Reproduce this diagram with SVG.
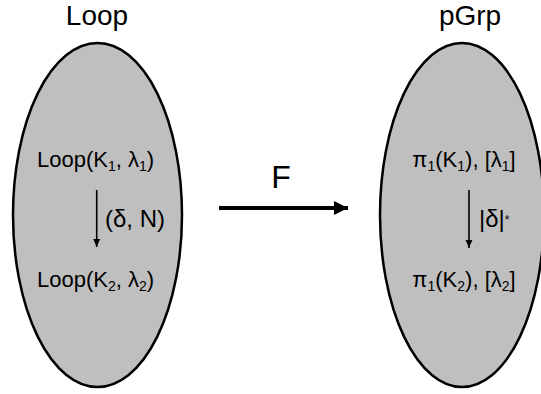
<svg xmlns="http://www.w3.org/2000/svg" width="541" height="394" viewBox="0 0 541 394">
<defs>
<style>
.set{fill:#bfbfbf;stroke:#000;stroke-width:2.5}
.title{font-family:"Liberation Sans",Arial,sans-serif;font-size:28px;fill:#000;text-anchor:middle}
.lbl{font-family:"Liberation Sans",Arial,sans-serif;font-size:22px;fill:#000;text-anchor:middle}
.edge{font-family:"Liberation Sans",Arial,sans-serif;font-size:24px;fill:#000}
.sub{font-size:14px}
.thin{stroke:#000;stroke-width:1.6;fill:none}
.thick{stroke:#000;stroke-width:4;fill:none}
</style>
<marker id="ah" viewBox="0 0 8 8" refX="8" refY="4" markerWidth="8" markerHeight="8" markerUnits="userSpaceOnUse" orient="auto">
<path d="M0,0.6 L8,4 L0,7.4 Z" fill="#000"/>
</marker>
<marker id="ahBig" viewBox="0 0 14 14" refX="14" refY="7" markerWidth="14" markerHeight="14" markerUnits="userSpaceOnUse" orient="auto">
<path d="M0,0 L14,7 L0,14 Z" fill="#000"/>
</marker>
</defs>
<g id="loop">
<text class="title" x="97" y="25">Loop</text>
<ellipse class="set" cx="97.5" cy="215" rx="84.5" ry="172"/>
</g>
<g id="pgrp">
<text class="title" x="470" y="25">pGrp</text>
<ellipse class="set" cx="462" cy="215" rx="82" ry="172"/>
</g>
<g id="loopK1">
<text class="lbl" x="95.5" y="167">Loop(K<tspan class="sub" dy="4">1</tspan><tspan dy="-4">, λ</tspan><tspan class="sub" dy="4">1</tspan><tspan dy="-4">)</tspan></text>
</g>
<g id="loopK2">
<text class="lbl" x="95.5" y="287">Loop(K<tspan class="sub" dy="4">2</tspan><tspan dy="-4">, λ</tspan><tspan class="sub" dy="4">2</tspan><tspan dy="-4">)</tspan></text>
</g>
<g id="pi1K1">
<text class="lbl" x="464" y="167">π<tspan class="sub" dy="4">1</tspan><tspan dy="-4">(K</tspan><tspan class="sub" dy="4">1</tspan><tspan dy="-4">), [λ</tspan><tspan class="sub" dy="4">1</tspan><tspan dy="-4">]</tspan></text>
</g>
<g id="pi1K2">
<text class="lbl" x="464" y="287">π<tspan class="sub" dy="4">1</tspan><tspan dy="-4">(K</tspan><tspan class="sub" dy="4">2</tspan><tspan dy="-4">), [λ</tspan><tspan class="sub" dy="4">2</tspan><tspan dy="-4">]</tspan></text>
</g>
<g id="connectors">
<line class="thin" x1="96.7" y1="190" x2="96.7" y2="247" marker-end="url(#ah)"/>
<text class="edge" x="105" y="227">(δ, N)</text>
<line class="thin" x1="469" y1="190" x2="469" y2="248" marker-end="url(#ah)"/>
<text class="edge" x="479" y="227">|δ|<tspan font-size="12" dy="-3">*</tspan></text>
<line class="thick" x1="219" y1="208" x2="348" y2="208" marker-end="url(#ahBig)"/>
<text class="edge" x="281" y="188" font-size="32" text-anchor="middle" style="font-size:32px">F</text>
</g>
</svg>
